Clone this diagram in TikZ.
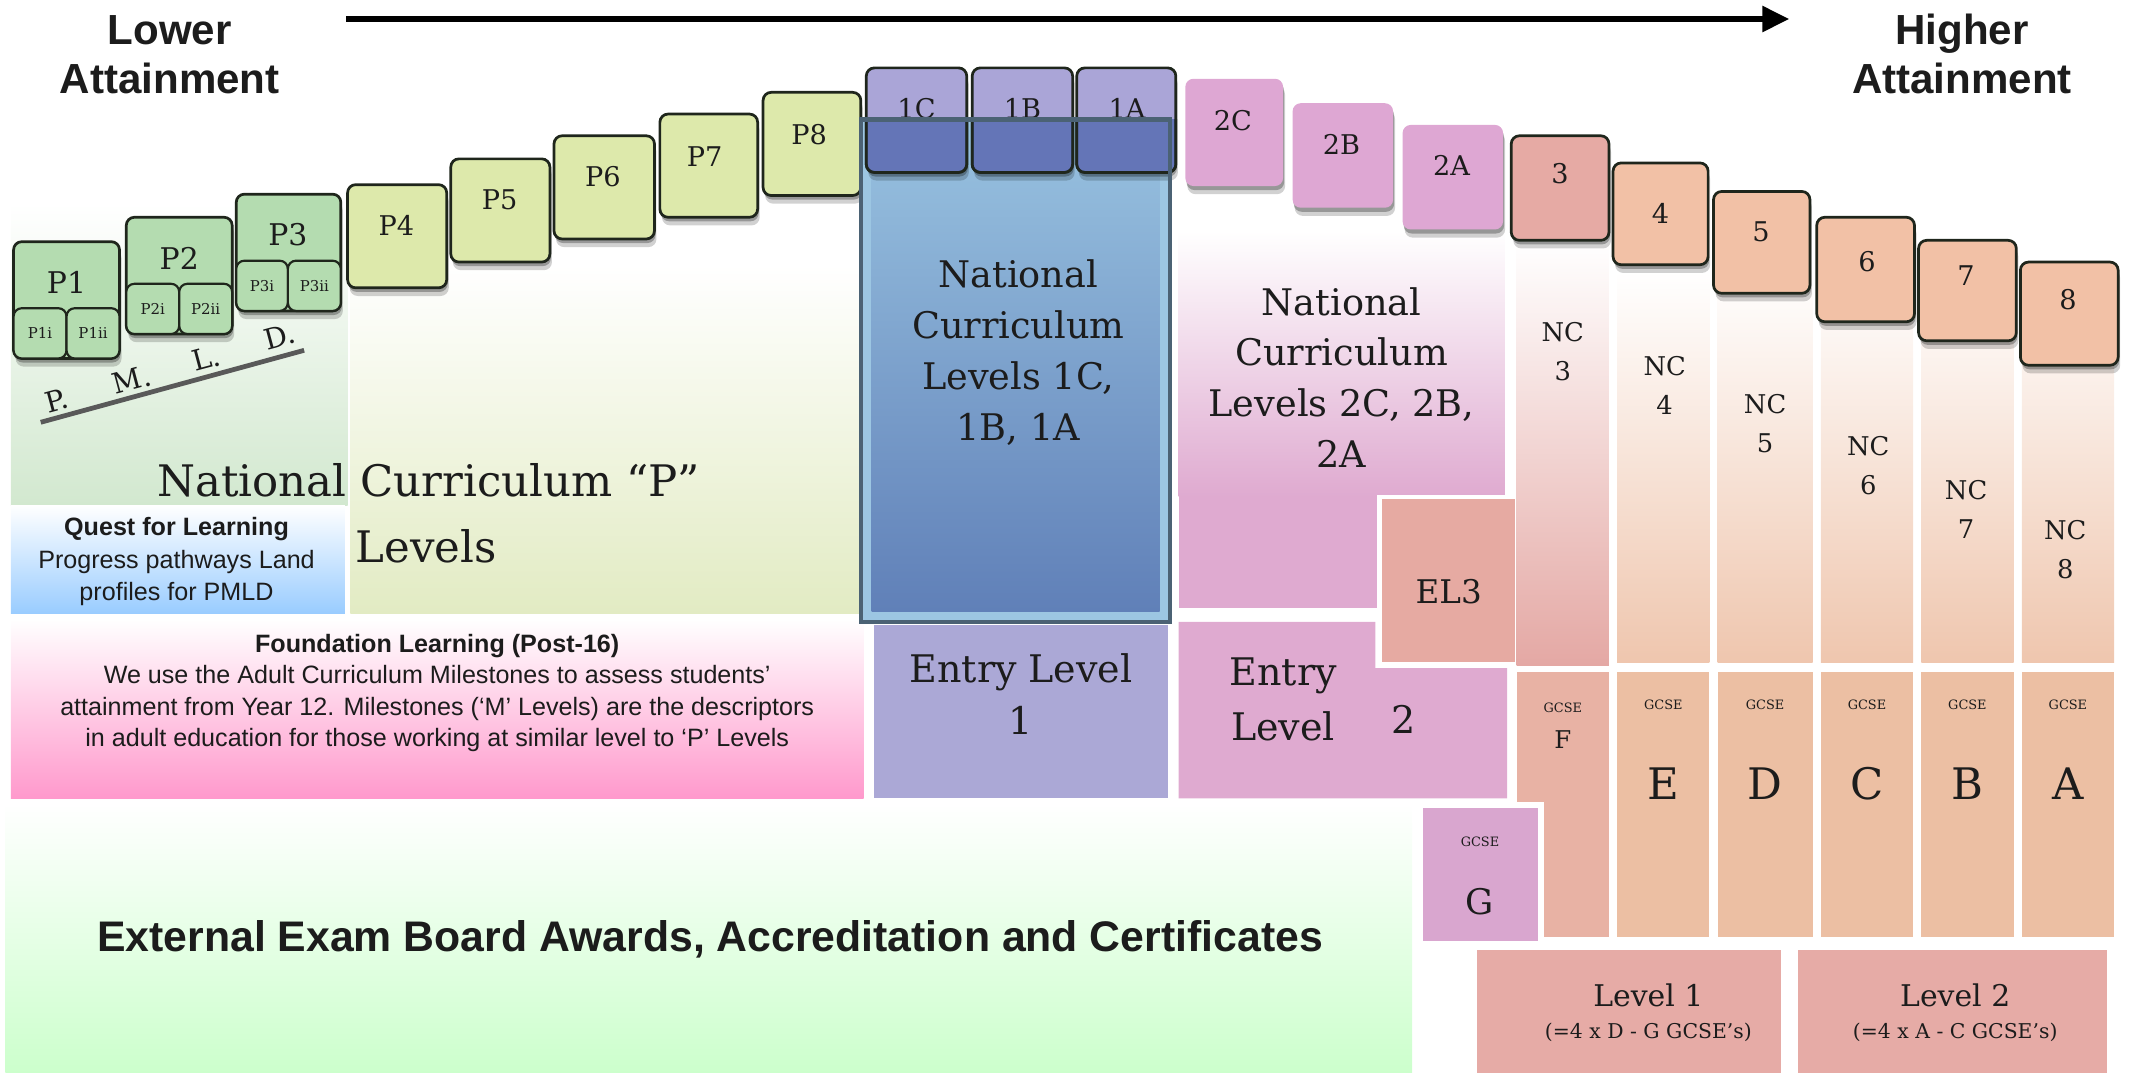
\documentclass[tikz,border=0pt]{standalone}
\usepackage{fontspec}
\setmainfont{DejaVu Serif}
\newfontfamily\arial{Liberation Sans}
\usetikzlibrary{shadows,arrows.meta}
\definecolor{txt}{HTML}{1C1C1C}
\definecolor{boxline}{HTML}{1F261C}
\definecolor{pgreen}{HTML}{B4DCB0}
\definecolor{pyel}{HTML}{DDE9AB}
\definecolor{lav}{HTML}{AAA5D7}
\definecolor{ovl}{HTML}{3A58A4}
\definecolor{pinkb}{HTML}{DEA7D3}
\definecolor{sthree}{HTML}{E6AAA4}
\definecolor{peach}{HTML}{F2C1A6}
\definecolor{elone}{HTML}{ABA8D6}
\definecolor{pinkbg}{HTML}{DFAAD0}
\definecolor{elthree}{HTML}{E6AAA2}
\definecolor{gF}{HTML}{E8B2A4}
\definecolor{gE}{HTML}{ECBFA3}
\definecolor{gG}{HTML}{D9A6CF}
\definecolor{lvc}{HTML}{E6ABA6}
\definecolor{ncpeach}{HTML}{EFC6AE}
\definecolor{ncthree}{HTML}{E4A8A4}
\definecolor{pmgreen}{HTML}{D2E8CF}
\definecolor{pyelbg}{HTML}{E2EBC3}
\definecolor{qblue}{HTML}{99CCFF}
\definecolor{fpink}{HTML}{FF99CC}
\definecolor{egreen}{HTML}{CCFFCC}
\definecolor{blfr}{HTML}{9CC6E2}
\definecolor{bltop}{HTML}{98C2E0}
\definecolor{blbot}{HTML}{6080B8}
\definecolor{bldark}{HTML}{4B6274}
\newcommand\boxat[6]{\node[#1,anchor=north west,minimum width=#5pt,minimum height=#6pt] (#2) at (#3,#4) {};}
\begin{document}
\begin{tikzpicture}[x=1pt,y=-1pt,
  every node/.style={inner sep=0pt,outer sep=0pt,text=txt},
  shd/.style={drop shadow={shadow xshift=1.5pt,shadow yshift=-6pt,opacity=.18,fill=black},
              drop shadow={shadow xshift=0.8pt,shadow yshift=-3pt,opacity=.28,fill=black}},
  lvbox/.style={draw=boxline,line width=2pt,rounded corners=6pt,shd},
  subbox/.style={draw=boxline,line width=1.6pt,rounded corners=6pt,fill=pgreen},
  flat/.style={rounded corners=6pt,shd},
  big/.style={font=\fontsize{27}{37.5}\selectfont,align=center},
  lab/.style={font=\fontsize{20}{22}\selectfont},
  sublab/.style={font=\fontsize{11}{12}\selectfont},
  nclab/.style={font=\fontsize{19}{28.5}\selectfont,align=center},
  gsmall/.style={font=\fontsize{9.5}{10}\selectfont},
  gbig/.style={font=\fontsize{32}{34}\selectfont},
  sans/.style={font=\arial\fontsize{18.5}{23.3}\selectfont,align=center},
  sansb/.style={font=\arial\bfseries\fontsize{18.5}{23.3}\selectfont,align=center},
  head/.style={font=\arial\bfseries\fontsize{31}{36}\selectfont,align=center}
]
\useasboundingbox (0,0) rectangle (1568,790);
% ---------- backgrounds
\shade[top color=white,middle color=pmgreen!75!white,bottom color=pmgreen] (8,150) rectangle (256,372);
\shade[top color=white,middle color=pyelbg!70!white,bottom color=pyelbg] (258,195) rectangle (634,452);
\shade[top color=white,bottom color=qblue] (8,372) rectangle (254,452);
\shade[top color=white,bottom color=fpink] (8,456) rectangle (636,588);
\shade[top color=white,bottom color=egreen] (4,592) rectangle (1040,790);
% NC 2 area
\shade[top color=white,bottom color=pinkbg] (868,170) rectangle (1108,366);
\fill[pinkbg] (868,365.5) rectangle (1015,448);
\fill[pinkbg] (868,458) -- (1013,458) -- (1013,492) -- (1110,492) -- (1110,588) -- (868,588) -- cycle;
\node[fill=elthree,draw=white,line width=3pt,anchor=north west,minimum width=101pt,minimum height=123pt] (el3box) at (1016,366) {};
% NC columns
\shade[top color=white,middle color=ncthree!55!white,bottom color=ncthree] (1117,178) rectangle (1185,490);
\foreach \x/\w in {1191/68,1265/70,1341/68,1415/68,1489/68}{
  \shade[top color=white,bottom color=ncpeach] (\x,200) rectangle (\x+\w,488);}
% GCSE columns
\boxat{fill=gF}{gcF}{1117}{495}{68}{195}
\boxat{fill=gE}{gcE}{1191}{495}{68}{195}
\boxat{fill=gE}{gcD}{1265}{495}{70}{195}
\boxat{fill=gE}{gcC}{1341}{495}{68}{195}
\boxat{fill=gE}{gcB}{1415}{495}{68}{195}
\boxat{fill=gE}{gcA}{1489}{495}{68}{195}
\node[fill=gG,draw=white,line width=4pt,anchor=north west,minimum width=89pt,minimum height=102pt] (gcG) at (1046,593) {};
\boxat{fill=lvc}{lv1}{1088}{700}{224}{90}
\boxat{fill=lvc}{lv2}{1324}{700}{228}{90}
% entry level 1
\boxat{fill=elone}{ent1}{644}{460}{216}{128}
% ---------- big blue box
\fill[blfr] (634,88) rectangle (862,458);
\shade[top color=bltop,bottom color=blbot] (642,92) rectangle (854,450);
% ---------- P boxes
\boxat{lvbox,fill=pgreen}{p1}{10}{178}{78}{86}
\boxat{subbox}{p1i}{10}{227}{39}{37}
\boxat{subbox}{p1ii}{49}{227}{39}{37}
\boxat{lvbox,fill=pgreen}{p2}{93}{160}{78}{86}
\boxat{subbox}{p2i}{93}{209}{39}{37}
\boxat{subbox}{p2ii}{132}{209}{39}{37}
\boxat{lvbox,fill=pgreen}{p3}{174}{143}{77}{86}
\boxat{subbox}{p3i}{174}{192}{38}{37}
\boxat{subbox}{p3ii}{212}{192}{39}{37}
\boxat{lvbox,fill=pyel}{p4}{256}{136}{73}{76}
\boxat{lvbox,fill=pyel}{p5}{332}{117}{73}{76}
\boxat{lvbox,fill=pyel}{p6}{408}{100}{74}{76}
\boxat{lvbox,fill=pyel}{p7}{486}{84}{72}{76}
\boxat{lvbox,fill=pyel}{p8}{562}{68}{72}{76}
% 1C 1B 1A
\boxat{lvbox,fill=lav}{b1c}{638}{50}{74}{77}
\boxat{lvbox,fill=lav}{b1b}{716}{50}{74}{77}
\boxat{lvbox,fill=lav}{b1a}{793}{50}{73}{77}
\node[lab] (t1c) at (675,80) {1C};
\node[lab] (t1b) at (753,80) {1B};
\node[lab] (t1a) at (830,80) {1A};
\begin{scope}
  \clip (630,88) rectangle (870,140);
  \fill[ovl,opacity=.62,rounded corners=6pt] (638,50) rectangle (712,127);
  \fill[ovl,opacity=.62,rounded corners=6pt] (716,50) rectangle (790,127);
  \fill[ovl,opacity=.62,rounded corners=6pt] (793,50) rectangle (866,127);
  \draw[boxline,line width=2pt,rounded corners=6pt] (638,50) rectangle (712,127);
  \draw[boxline,line width=2pt,rounded corners=6pt] (716,50) rectangle (790,127);
  \draw[boxline,line width=2pt,rounded corners=6pt] (793,50) rectangle (866,127);
\end{scope}
\draw[bldark,line width=3pt] (634,88) rectangle (862,458);
% 2C 2B 2A
\boxat{flat,fill=pinkb}{b2c}{873}{58}{72}{79}
\boxat{flat,fill=pinkb}{b2b}{952}{76}{74}{77}
\boxat{flat,fill=pinkb}{b2a}{1033}{92}{74}{77}
% 3..8
\boxat{lvbox,fill=sthree}{b3}{1113}{100}{72}{77}
\boxat{lvbox,fill=peach}{b4}{1188}{120}{70}{75}
\boxat{lvbox,fill=peach}{b5}{1262}{141}{71}{75}
\boxat{lvbox,fill=peach}{b6}{1338}{160}{72}{77}
\boxat{lvbox,fill=peach}{b7}{1413}{177}{72}{74}
\boxat{lvbox,fill=peach}{b8}{1488}{193}{72}{76}
% ---------- labels on boxes
\node[font=\fontsize{22}{24}\selectfont] (tp1) at (49,208) {P1};
\node[font=\fontsize{22}{24}\selectfont] (tp2) at (132,190) {P2};
\node[font=\fontsize{22}{24}\selectfont] (tp3) at (212,173) {P3};
\node[sublab] (tp1i) at (29.5,245.5) {P1i};
\node[sublab] (tp1ii) at (68.5,245.5) {P1ii};
\node[sublab] (tp2i) at (112.5,227.5) {P2i};
\node[sublab] (tp2ii) at (151.5,227.5) {P2ii};
\node[sublab] (tp3i) at (193,210.5) {P3i};
\node[sublab] (tp3ii) at (231.5,210.5) {P3ii};
\node[lab] (tp4) at (292,166) {P4};
\node[lab] (tp5) at (368,147) {P5};
\node[lab] (tp6) at (444,130) {P6};
\node[lab] (tp7) at (519,115) {P7};
\node[lab] (tp8) at (596,99) {P8};
\node[lab] (t2c) at (908,89) {2C};
\node[lab] (t2b) at (988,106) {2B};
\node[lab] (t2a) at (1069,122) {2A};
\node[lab] (t3) at (1149,128) {3};
\node[lab] (t4) at (1223,157) {4};
\node[lab] (t5) at (1297,171) {5};
\node[lab] (t6) at (1375,193) {6};
\node[lab] (t7) at (1448,203) {7};
\node[lab] (t8) at (1523,221) {8};
% PMLD
\coordinate (pmA) at (30,311);
\coordinate (pmB) at (224,258);
\draw[black!65,line width=3.5pt] (pmA) -- (pmB);
\foreach \t/\x/\y [count=\i] in {P./42/295,M./97/280,L./152/264,D./206/248}{
  \node[font=\fontsize{21}{22}\selectfont,rotate=15] (pml\i) at (\x,\y) {\t};}
% ---------- big texts
\node[font=\fontsize{32}{34}\selectfont,anchor=west] (ncp) at (116,354) {National Curriculum “P”};
\node[font=\fontsize{32}{34}\selectfont,anchor=west] (ncpl) at (262,402) {Levels};
\node[big] (nc1) at (750,259.5) {National\\Curriculum\\Levels 1C,\\1B, 1A};
\node[big] (nc2) at (988,278) {National\\Curriculum\\Levels 2C, 2B,\\2A};
\node[font=\fontsize{28}{38}\selectfont,align=center] (tent1) at (752,511) {Entry Level\\1};
\node[font=\fontsize{28}{40}\selectfont,align=center] (tent2) at (945,515) {Entry\\Level};
\node[font=\fontsize{28}{30}\selectfont] (tent2n) at (1034,530) {2};
\node[font=\fontsize{24}{26}\selectfont] (tel3) at (1067,436) {EL3};
% NC labels
\node[nclab] (nc3) at (1151,259) {NC\\3};
\node[nclab] (nc4) at (1226,284) {NC\\4};
\node[nclab] (nc5) at (1300,312) {NC\\5};
\node[nclab] (nc6) at (1376,343) {NC\\6};
\node[nclab] (nc7) at (1448,375) {NC\\7};
\node[nclab] (nc8) at (1521,405) {NC\\8};
% GCSE labels
\node[gsmall] (gsF) at (1151,521) {GCSE};
\node[font=\fontsize{18}{19}\selectfont] (gF) at (1151,545) {F};
\foreach \n/\x/\l in {E/1225/E,D/1300/D,C/1375/C,B/1449/B,A/1523/A}{
  \node[gsmall] (gs\n) at (\x,519) {GCSE};
  \node[gbig] (gl\n) at (\x,577) {\l};}
\node[gsmall] (gsG) at (1090,620) {GCSE};
\node[font=\fontsize{26}{28}\selectfont] (gG) at (1090,664) {G};
\node[font=\fontsize{22}{23}\selectfont] (tl1) at (1214,733) {Level 1};
\node[font=\fontsize{15}{16}\selectfont] (tl1s) at (1214,760) {(=4 x D - G GCSE’s)};
\node[font=\fontsize{22}{23}\selectfont] (tl2) at (1440,733) {Level 2};
\node[font=\fontsize{15}{16}\selectfont] (tl2s) at (1440,760) {(=4 x A - C GCSE’s)};
% ---------- sans texts
\node[sansb] (qfl) at (130,390) {Quest for Learning};
\node[sans] (qfl2) at (130,425.5) {Progress pathways Land\\profiles for PMLD};
\node[sansb] (fl) at (322,476) {Foundation Learning (Post-16)};
\node[sans] (fl2) at (322,522) {We use the Adult Curriculum Milestones to assess students’\\attainment from Year 12. Milestones (‘M’ Levels) are the descriptors\\in adult education for those working at similar level to ‘P’ Levels};
\node[font=\arial\bfseries\fontsize{31.5}{33}\selectfont] (ext) at (523,692) {External Exam Board Awards, Accreditation and Certificates};
\node[head] (lower) at (125,40) {Lower\\Attainment};
\node[head] (higher) at (1445,40) {Higher\\Attainment};
% ---------- arrow
\coordinate (arrL) at (255,14);
\coordinate (arrR) at (1318,14);
\draw[black,line width=5pt,-{Triangle[length=20pt,width=18pt]}] (arrL) -- (arrR);
\end{tikzpicture}
\end{document}
